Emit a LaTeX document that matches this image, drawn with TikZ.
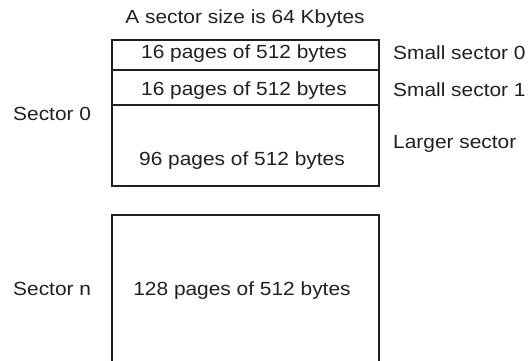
\documentclass[tikz,border=0pt]{standalone}
\usepackage{fontspec}
\setmainfont{Liberation Sans}[FakeStretch=1.1]
\definecolor{ink}{RGB}{35,31,32}
\begin{document}
\begin{tikzpicture}[x=1pt,y=-1pt,
  cell/.style={draw=ink,line width=2pt,inner sep=0pt,outer sep=0pt,minimum width=267pt},
  lbl/.style={inner sep=0pt,anchor=base,text=ink,font=\fontsize{19}{22}\selectfont},
  lblw/.style={lbl,anchor=base west}]
\useasboundingbox (0,0) rectangle (528,360);
\node[cell,minimum height=30pt] (c1) at (245.5,55) {};
\node[cell,minimum height=35pt] (c2) at (245.5,87.5) {};
\node[cell,minimum height=81pt] (c3) at (245.5,145.5) {};
\node[cell,minimum height=170pt] (c4) at (245.5,300) {};
\node[lbl] (title) at (245,23) {A sector size is 64 Kbytes};
\node[lbl] (t1) at (244,58) {16 pages of 512 bytes};
\node[lbl] (t2) at (244,95) {16 pages of 512 bytes};
\node[lbl] (t3) at (242,165) {96 pages of 512 bytes};
\node[lbl] (t4) at (242,295) {128 pages of 512 bytes};
\node[lblw] (s0) at (13,120) {Sector 0};
\node[lblw] (sn) at (13,295) {Sector n};
\node[lblw] (ss0) at (393,59) {Small sector 0};
\node[lblw] (ss1) at (393,96) {Small sector 1};
\node[lblw] (ls) at (393,148) {Larger sector};
\end{tikzpicture}
\end{document}
